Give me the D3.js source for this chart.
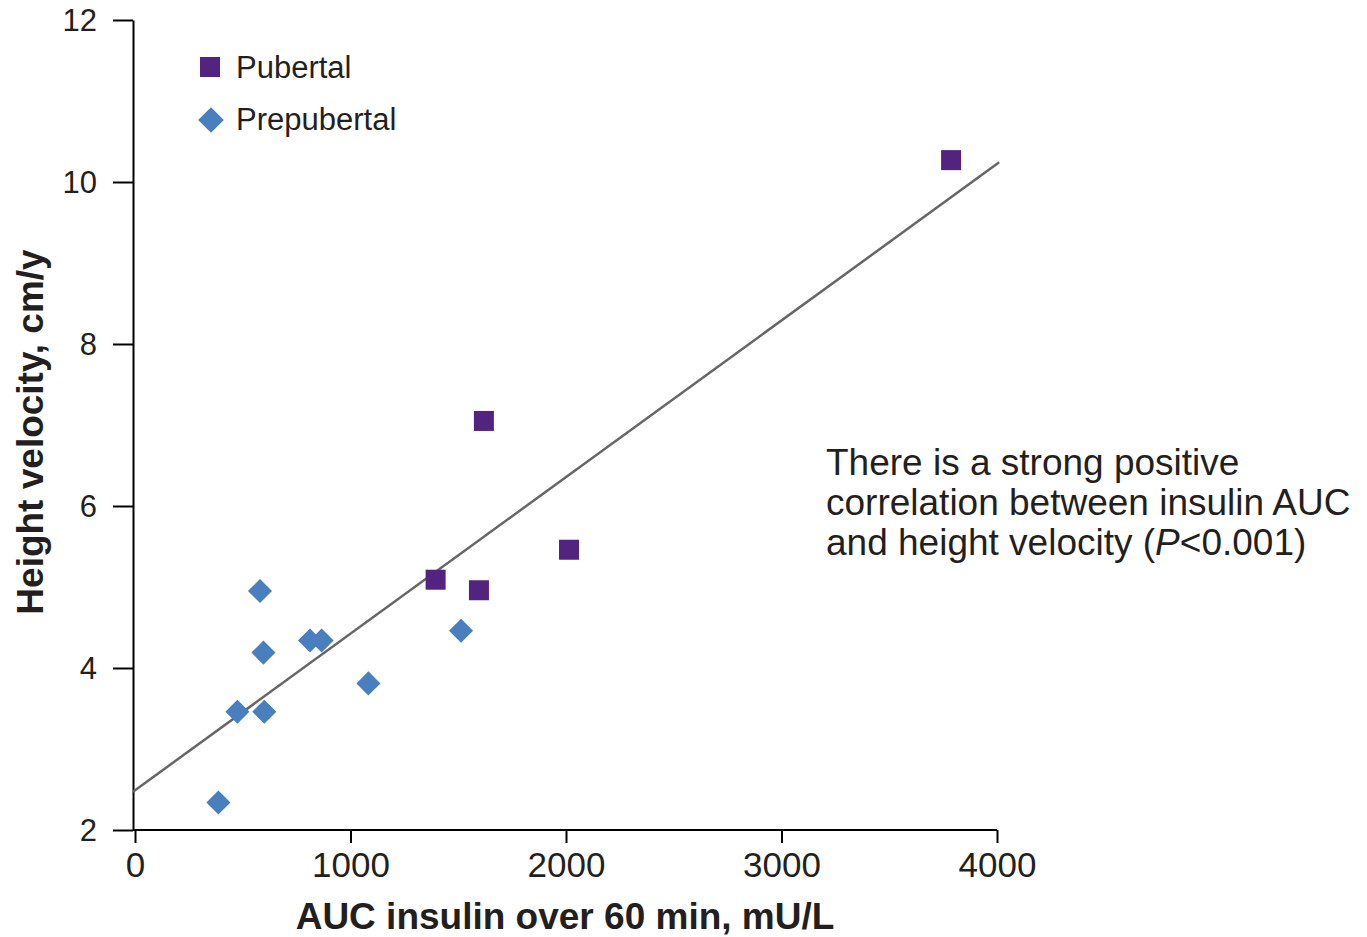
<!DOCTYPE html>
<html>
<head>
<meta charset="utf-8">
<script src="https://cdn.jsdelivr.net/npm/d3@7"></script>
<style>
  body { margin: 0; background: #fff; }
  svg text { font-family: "Liberation Sans", Arial, sans-serif; fill: #231f20; }
  .axis path, .axis line { stroke: #000; stroke-width: 2; }
</style>
</head>
<body>
<div class="container"></div>
<script>
// values
var pubertalX = [1395, 1596, 1619, 2014, 3787];
var pubertalY = [5.09, 4.96, 7.05, 5.46, 10.27];
var prepubertalX = [580, 596, 812, 866, 475, 600, 1083, 387, 1513];
var prepubertalY = [4.95, 4.19, 4.34, 4.34, 3.46, 3.46, 3.81, 2.34, 4.46];
var xTicks = [0, 1000, 2000, 3000, 4000];
var yTicks = [2, 4, 6, 8, 10, 12];
var trendEnd = 4010;
var seriesNames = ['Pubertal', 'Prepubertal'];
var noteLines = ['There is a strong positive', 'correlation between insulin AUC'];

var purple = '#52237f';
var blue = '#4a7fbf';

var svg = d3.select('.container')
	.append('svg')
	.attr('width', 1367)
	.attr('height', 937);

var x = d3.scaleLinear().domain([0, 4000]).range([135, 997]);
var y = d3.scaleLinear().domain([2, 12]).range([830, 20]);

// axes
var yAxis = svg.append('g')
	.attr('class', 'axis')
	.attr('transform', 'translate(133,0)')
	.call(d3.axisLeft(y).tickValues(yTicks).tickSize(20).tickSizeOuter(0).tickPadding(16));
yAxis.selectAll('text').style('font-size', '31px').attr('dy', '0.35em');

var xAxis = svg.append('g')
	.attr('class', 'axis')
	.attr('transform', 'translate(0,830)')
	.call(d3.axisBottom(x).tickValues(xTicks).tickFormat(d3.format('d'))
		.tickSize(13).tickSizeOuter(0).tickPadding(8));
xAxis.select('.domain').attr('d', 'M133,0H997');
xAxis.selectAll('text').style('font-size', '35px').attr('dy', '0.75em');
svg.selectAll('.axis text').style('fill', '#231f20');

// trend line (least squares over all points)
var allX = pubertalX.concat(prepubertalX);
var allY = pubertalY.concat(prepubertalY);
var mx = d3.mean(allX), my = d3.mean(allY);
var sxy = d3.sum(allX, function(v, i) { return (v - mx) * (allY[i] - my); });
var sxx = d3.sum(allX, function(v) { return (v - mx) * (v - mx); });
var slope = sxy / sxx;
var intercept = my - slope * mx;

svg.append('line')
	.attr('x1', 133)
	.attr('y1', y(intercept))
	.attr('x2', x(trendEnd))
	.attr('y2', y(intercept + slope * trendEnd))
	.attr('stroke', '#666')
	.attr('stroke-width', 2.5);

// points
var diamond = d3.symbol().type(d3.symbolSquare).size(290);

svg.selectAll('.prepubertal')
	.data(prepubertalX)
	.enter()
	.append('path')
	.attr('class', 'prepubertal')
	.attr('d', diamond)
	.attr('transform', function(d, i) {
		return 'translate(' + x(d) + ',' + y(prepubertalY[i]) + ') rotate(45)';
	})
	.attr('fill', blue);

svg.selectAll('.pubertal')
	.data(pubertalX)
	.enter()
	.append('rect')
	.attr('class', 'pubertal')
	.attr('x', function(d) { return x(d) - 10; })
	.attr('y', function(d, i) { return y(pubertalY[i]) - 10; })
	.attr('width', 20)
	.attr('height', 20)
	.attr('fill', purple);

// legend
svg.append('rect')
	.attr('x', 200).attr('y', 57)
	.attr('width', 20).attr('height', 20)
	.attr('fill', purple);
svg.append('path')
	.attr('d', d3.symbol().type(d3.symbolSquare).size(330))
	.attr('transform', 'translate(211,120) rotate(45)')
	.attr('fill', blue);
svg.append('text')
	.attr('x', 236).attr('y', 78)
	.style('font-size', '31px')
	.text(seriesNames[0]);
svg.append('text')
	.attr('x', 236).attr('y', 130)
	.style('font-size', '31px')
	.text(seriesNames[1]);

// axis titles
svg.append('text')
	.attr('x', 565).attr('y', 929)
	.attr('text-anchor', 'middle')
	.style('font-size', '37px')
	.style('font-weight', 'bold')
	.text('AUC insulin over 60 min, mU/L');

svg.append('text')
	.attr('transform', 'translate(43,432) rotate(-90)')
	.attr('text-anchor', 'middle')
	.style('font-size', '37px')
	.style('font-weight', 'bold')
	.text('Height velocity, cm/y');

// annotation
var note = svg.append('text')
	.attr('x', 826)
	.style('font-size', '37px');
note.append('tspan').attr('x', 826).attr('y', 475).text(noteLines[0]);
note.append('tspan').attr('x', 826).attr('y', 515).text(noteLines[1]);
var last = note.append('tspan').attr('x', 826).attr('y', 555);
last.append('tspan').text('and height velocity (');
note.append('tspan').style('font-style', 'italic').text('P');
note.append('tspan').text('<0.001)');
</script>
</body>
</html>
